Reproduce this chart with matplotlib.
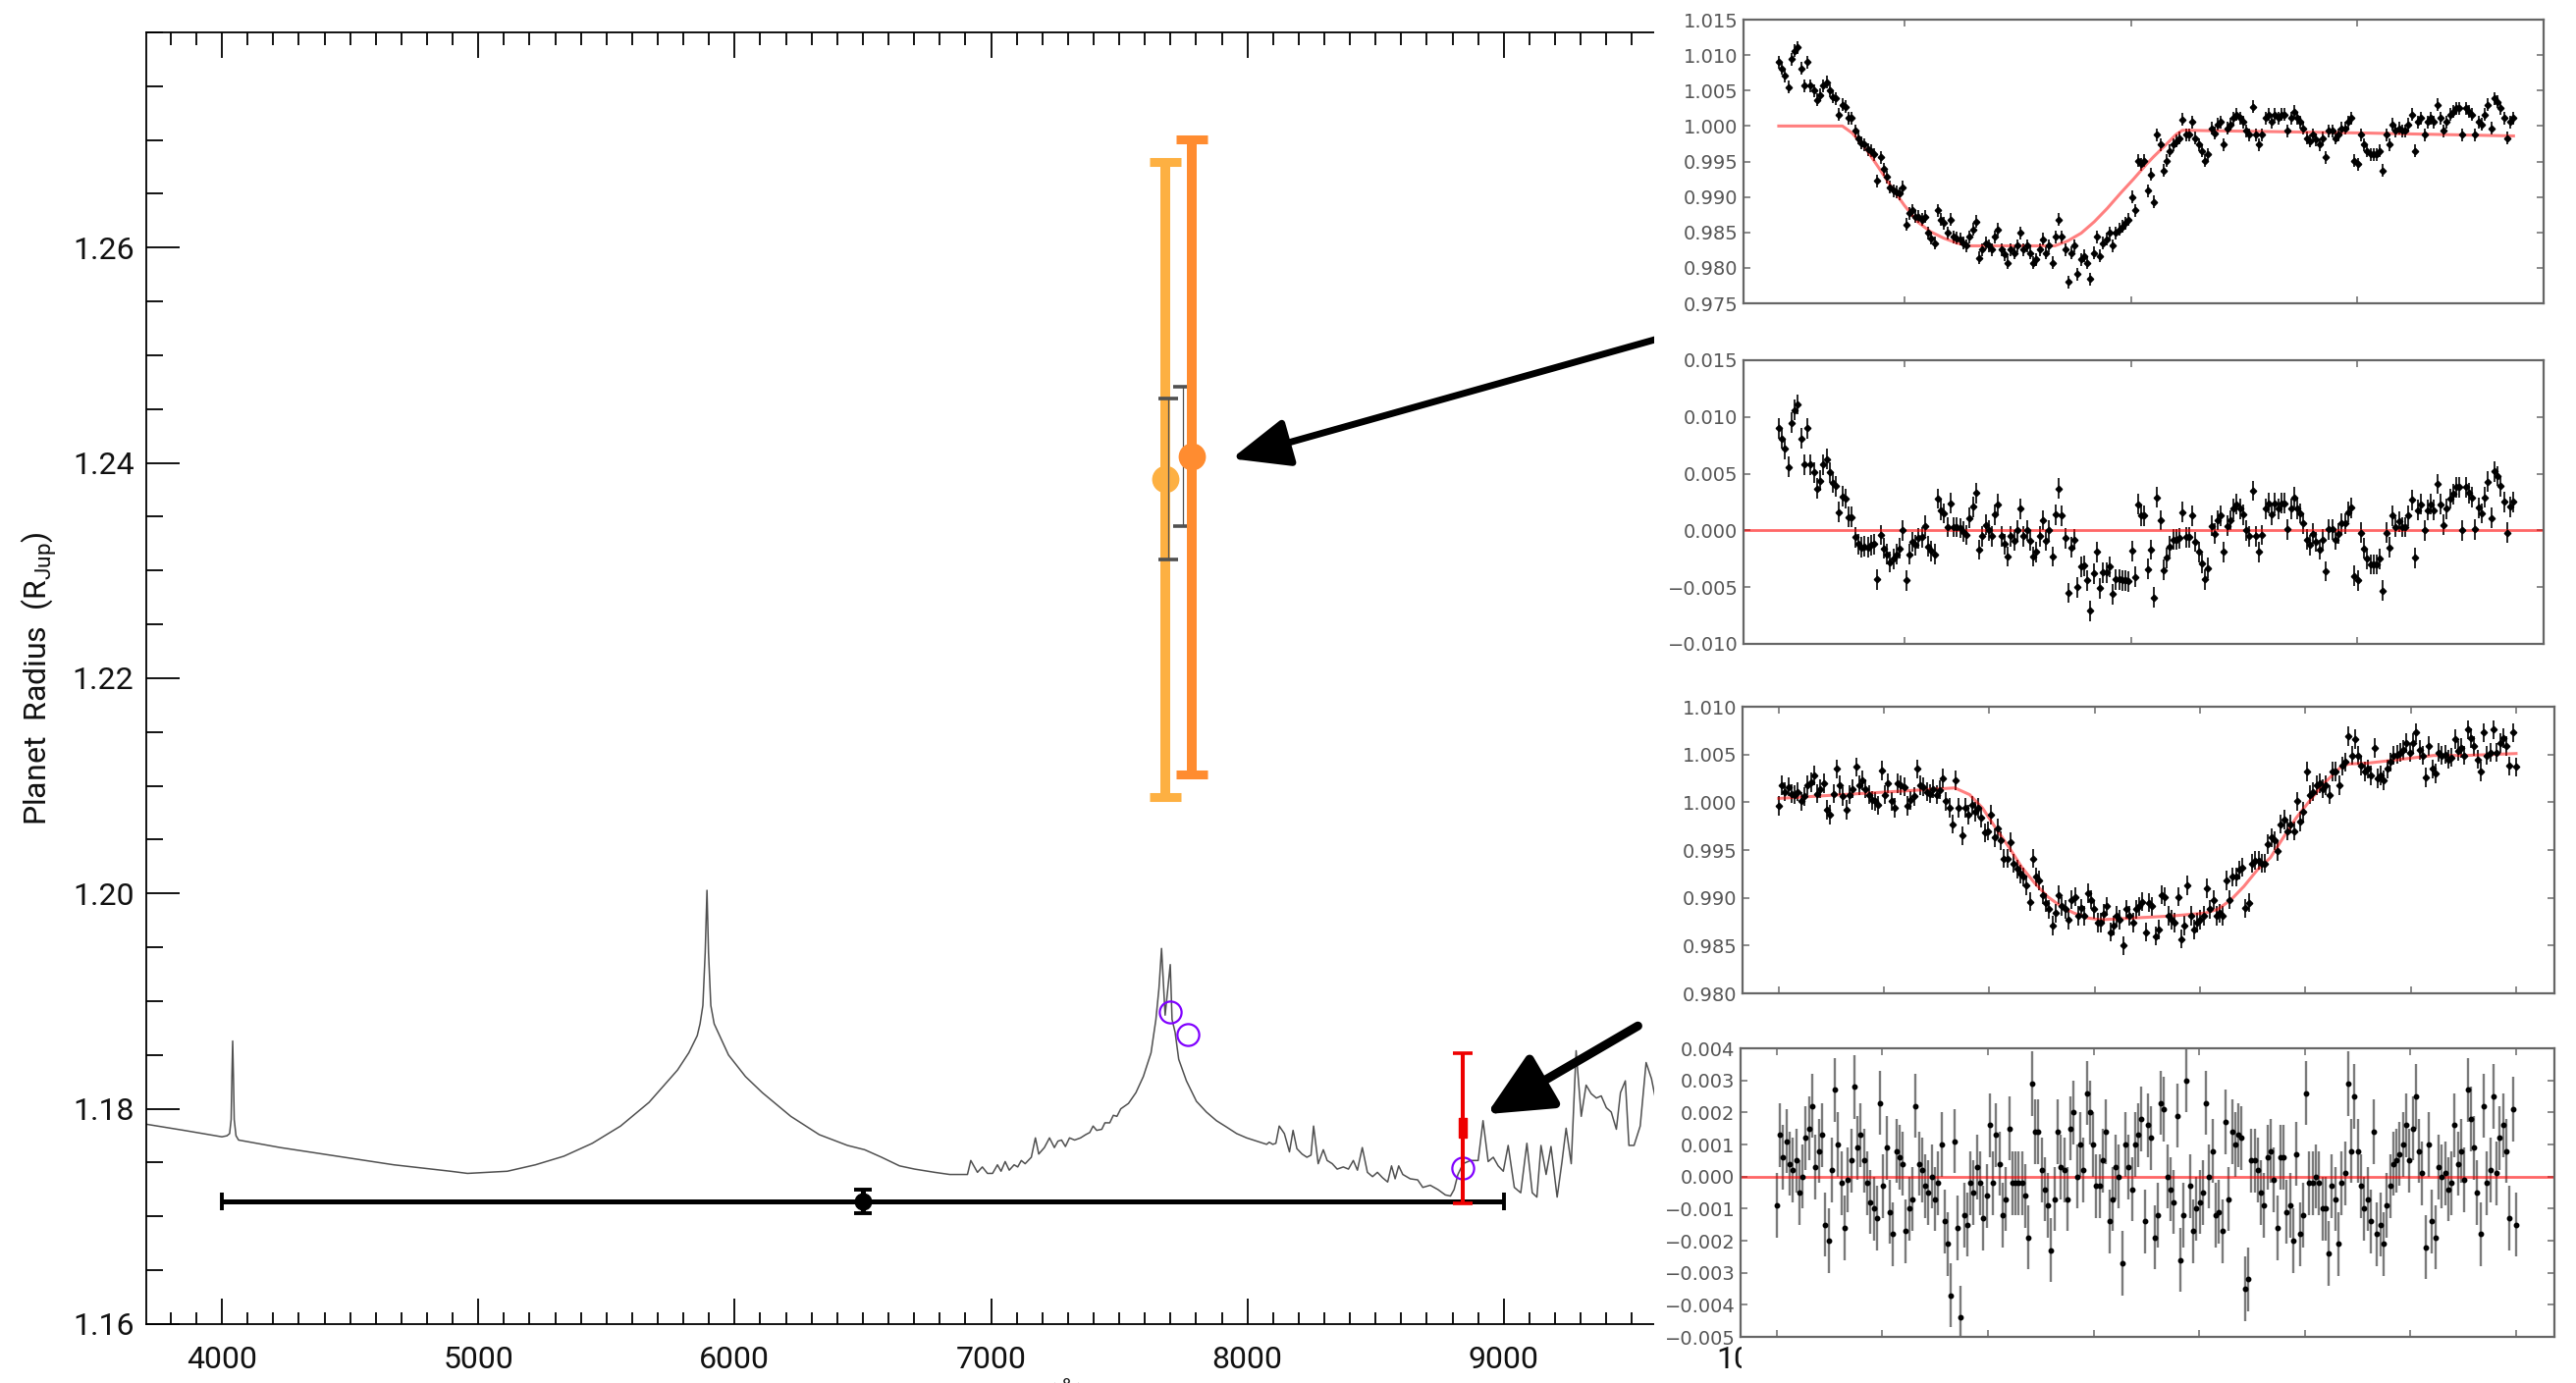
import numpy as np
import matplotlib
matplotlib.use('Agg')
import matplotlib.pyplot as plt
from matplotlib.patches import Rectangle
from matplotlib.ticker import MultipleLocator, FormatStrFormatter

plt.rcParams['font.family'] = ['Roboto', 'DejaVu Sans']
plt.rcParams['font.weight'] = 'normal'
plt.rcParams['mathtext.fontset'] = 'custom'
plt.rcParams['mathtext.rm'] = 'Roboto'

# model transmission spectrum (wavelength in A, radius in R_Jup)
spec_wave = [3697, 3852, 4000, 4020, 4030, 4036, 4039, 4042, 4045, 4048, 4055, 4065,
             4228, 4449, 4670, 4892, 4958, 5113, 5223, 5334, 5445, 5555, 5666, 5777,
             5821, 5854, 5865, 5876, 5885, 5892, 5898, 5907, 5920, 5976, 6042, 6108,
             6219, 6330, 6440, 6507, 6573, 6643, 6702, 6780, 6839, 6908,
             6921, 6947, 6966, 6986, 7006, 7025, 7039, 7055, 7071, 7090, 7104, 7118,
             7133, 7157, 7173, 7186, 7208, 7228, 7247, 7261, 7275, 7290, 7306, 7326,
             7349, 7369, 7385, 7398, 7412, 7432, 7444, 7463, 7477, 7491, 7506, 7536,
             7565, 7594, 7624, 7643, 7655, 7665, 7679, 7699, 7706, 7718, 7732, 7762,
             7801, 7840, 7879, 7919, 7958, 7997, 8036, 8075, 8085, 8099, 8111, 8124,
             8144, 8164, 8178, 8193, 8213, 8232, 8248, 8258, 8276, 8296, 8311, 8331,
             8350, 8374, 8394, 8413, 8429, 8448, 8468, 8488, 8507, 8527, 8547, 8562,
             8576, 8590, 8606, 8635, 8664, 8684, 8713, 8743, 8772, 8792, 8806, 8821,
             8841, 8870, 8900, 8919, 8939, 8959, 8978, 8998, 9017, 9041, 9066, 9090,
             9111, 9129, 9145, 9165, 9184, 9208, 9227, 9243, 9263, 9282, 9302, 9321,
             9341, 9361, 9380, 9400, 9419, 9439, 9455, 9474, 9488, 9508, 9532, 9555,
             9576, 9600]
spec_rad = [1.1786, 1.1780, 1.1774, 1.1775, 1.1777, 1.1790, 1.1830, 1.1863, 1.1830, 1.1790, 1.1775, 1.1771,
            1.1764, 1.1756, 1.1748, 1.1742, 1.1740, 1.1742, 1.1748, 1.1756, 1.1768, 1.1784, 1.1806, 1.1836,
            1.1852, 1.1868, 1.1879, 1.1896, 1.1945, 1.2003, 1.1945, 1.1896, 1.1879, 1.1850, 1.1830, 1.1815,
            1.1793, 1.1776, 1.1766, 1.1762, 1.1755, 1.1747, 1.1744, 1.1741, 1.1739, 1.1739,
            1.1752, 1.1741, 1.1746, 1.1740, 1.1740, 1.1748, 1.1742, 1.1751, 1.1743, 1.1748, 1.1746, 1.1752,
            1.1749, 1.1755, 1.1773, 1.1758, 1.1764, 1.1773, 1.1764, 1.1770, 1.1771, 1.1765, 1.1773, 1.1771,
            1.1773, 1.1776, 1.1778, 1.1784, 1.1780, 1.1781, 1.1787, 1.1787, 1.1794, 1.1793, 1.1800, 1.1805,
            1.1815, 1.1830, 1.1852, 1.1883, 1.1912, 1.1949, 1.1887, 1.1934, 1.1883, 1.1871, 1.1846, 1.1826,
            1.1807, 1.1797, 1.1789, 1.1783, 1.1777, 1.1773, 1.1770, 1.1767, 1.1769, 1.1767, 1.1768, 1.1784,
            1.1777, 1.1760, 1.1780, 1.1763, 1.1758, 1.1755, 1.1757, 1.1784, 1.1749, 1.1762, 1.1752, 1.1749,
            1.1744, 1.1746, 1.1744, 1.1752, 1.1743, 1.1764, 1.1741, 1.1737, 1.1741, 1.1736, 1.1732, 1.1747,
            1.1735, 1.1747, 1.1739, 1.1735, 1.1734, 1.1727, 1.1729, 1.1725, 1.1720, 1.1719, 1.1725, 1.1739,
            1.1749, 1.1752, 1.1752, 1.1789, 1.1751, 1.1755, 1.1747, 1.1742, 1.1766, 1.1727, 1.1722, 1.1768,
            1.1722, 1.1718, 1.1766, 1.1739, 1.1765, 1.1718, 1.1751, 1.1782, 1.1749, 1.1854, 1.1793, 1.1822,
            1.1814, 1.1810, 1.1812, 1.1801, 1.1797, 1.1781, 1.1815, 1.1826, 1.1766, 1.1766, 1.1784, 1.1843,
            1.1828, 1.1799]

# binned model points
circ_wave = [7699, 7767, 8841]
circ_rad = [1.1890, 1.1869, 1.1745]

# broadband radius
bb_wave, bb_xerr, bb_rad, bb_yerr = 6500, 2500, 1.1714, 0.0011
# z-band point
z_wave, z_rad, z_err = 8840, 1.1782, 0.0070
# potassium points: total and statistical errors
k_wave = [7681, 7784]
k_rad = [1.2385, 1.2406]
k_err = [0.0295, 0.0295]
k_err_stat = [0.0075, 0.0065]
k_colors = ['#FDB042', '#FF8C30']

# light curve 1 (normalised flux) and residuals
p1_flux = [1.0090, 1.0081, 1.0071, 1.0055, 1.0094, 1.0106, 1.0111, 1.0081, 1.0057, 1.0090,
           1.0057, 1.0050, 1.0037, 1.0044, 1.0057, 1.0062, 1.0050, 1.0041, 1.0039, 1.0016,
           1.0030, 1.0027, 1.0011, 1.0011, 0.9993, 0.9983, 0.9976, 0.9974, 0.9967, 0.9965,
           0.9960, 0.9923, 0.9956, 0.9939, 0.9928, 0.9914, 0.9909, 0.9907, 0.9905, 0.9914,
           0.9861, 0.9877, 0.9881, 0.9872, 0.9872, 0.9868, 0.9872, 0.9849, 0.9842, 0.9835,
           0.9881, 0.9868, 0.9863, 0.9849, 0.9868, 0.9844, 0.9842, 0.9840, 0.9835, 0.9831,
           0.9844, 0.9854, 0.9865, 0.9814, 0.9826, 0.9835, 0.9831, 0.9826, 0.9844, 0.9854,
           0.9826, 0.9819, 0.9807, 0.9826, 0.9821, 0.9831, 0.9849, 0.9826, 0.9831, 0.9821,
           0.9807, 0.9812, 0.9826, 0.9840, 0.9821, 0.9831, 0.9807, 0.9844, 0.9868, 0.9844,
           0.9826, 0.9780, 0.9821, 0.9831, 0.9791, 0.9812, 0.9817, 0.9807, 0.9784, 0.9821,
           0.9844, 0.9817, 0.9835, 0.9840, 0.9849, 0.9831, 0.9849, 0.9854, 0.9858, 0.9863,
           0.9868, 0.9900, 0.9881, 0.9951, 0.9946, 0.9951, 0.9909, 0.9932, 0.9893, 0.9988,
           0.9974,
           0.9937, 0.9951, 0.9965, 0.9974, 0.9979, 0.9983, 1.0009, 0.9988, 0.9988, 1.0006,
           0.9983, 0.9974, 0.9965, 0.9951, 0.9960, 0.9997, 0.9990, 1.0002, 1.0006, 0.9974,
           0.9997, 1.0002, 1.0011, 1.0016, 1.0011, 1.0006, 0.9993, 0.9988, 1.0027, 0.9988,
           0.9974, 0.9988, 1.0011, 1.0016, 1.0006, 1.0016, 1.0011, 1.0016, 1.0016, 0.9993,
           1.0011, 1.0020, 1.0011, 1.0006, 0.9997, 0.9983, 0.9979, 0.9988, 0.9981, 0.9974,
           0.9983, 0.9956, 0.9993, 0.9993, 0.9983, 0.9988, 0.9997, 0.9997, 1.0006, 1.0011,
           0.9951, 0.9946, 0.9988, 0.9974, 0.9965, 0.9960, 0.9960, 0.9960, 0.9965, 0.9937,
           0.9988, 0.9974, 1.0002, 0.9993, 0.9997, 0.9993, 0.9993, 1.0002, 1.0016, 0.9965,
           1.0006, 1.0011, 0.9988, 1.0006, 1.0011, 1.0006, 1.0030, 1.0011, 0.9993, 1.0006,
           1.0016, 1.0020, 1.0025, 1.0025, 0.9988, 1.0025, 1.0020, 1.0016, 0.9988, 1.0006,
           1.0002, 1.0016, 1.0030, 0.9997, 1.0039, 1.0034, 1.0025, 1.0011, 0.9983, 1.0006,
           1.0011]
p1_model_t = [0, 20, 23.1, 27.2, 31.3, 35.4, 39.5, 43.6, 47.7, 51.8, 56.0, 60.1, 68.3, 78.6,
              86.8, 90.9, 95.1, 99.2, 103.3, 107.4, 111.5, 115.6, 117.7, 121.8, 124.9, 126.9,
              185.6, 231]
p1_model_f = [1.0000, 1.0000, 0.9990, 0.9969, 0.9942, 0.9914, 0.9888, 0.9865, 0.9851, 0.9842,
              0.9835, 0.9831, 0.9831, 0.9831, 0.9831, 0.9838, 0.9849, 0.9865, 0.9884, 0.9905,
              0.9925, 0.9946, 0.9956, 0.9974, 0.9988, 0.9994, 0.9990, 0.9986]
p2_res = [0.0090, 0.0081, 0.0072, 0.0056, 0.0095, 0.0106, 0.0111, 0.0081, 0.0058, 0.0090,
          0.0058, 0.0051, 0.0037, 0.0044, 0.0058, 0.0063, 0.0051, 0.0042, 0.0039, 0.0016,
          0.0030, 0.0028, 0.0012, 0.0012, -0.0006, -0.0012, -0.0015, -0.0014, -0.0015, -0.0013,
          -0.0012, -0.0043, -0.0004, -0.0016, -0.0021, -0.0028, -0.0025, -0.0021, -0.0016, 0.0000,
          -0.0044, -0.0021, -0.0010, -0.0013, -0.0007, -0.0006, 0.0004, -0.0014, -0.0018, -0.0021,
          0.0028, 0.0018, 0.0015, 0.0003, 0.0024, 0.0003, 0.0003, 0.0002, -0.0001, -0.0004,
          0.0011, 0.0021, 0.0033, -0.0017, -0.0005, 0.0005, 0.0000, -0.0005, 0.0014, 0.0023,
          -0.0005, -0.0012, -0.0023, -0.0005, -0.0009, 0.0000, 0.0019, -0.0005, 0.0000, -0.0009,
          -0.0023, -0.0019, -0.0005, 0.0009, -0.0009, 0.0000, -0.0023, 0.0014, 0.0037, 0.0013,
          -0.0007, -0.0055, -0.0015, -0.0008, -0.0050, -0.0032, -0.0031, -0.0044, -0.0071, -0.0038,
          -0.0019, -0.0051, -0.0037, -0.0037, -0.0032, -0.0056, -0.0043, -0.0043, -0.0044, -0.0044,
          -0.0045, -0.0018, -0.0041, 0.0023, 0.0013, 0.0013, -0.0034, -0.0017, -0.0059, 0.0029,
          0.0009,
          -0.0035, -0.0024, -0.0014, -0.0008, -0.0008, -0.0007, 0.0016, -0.0006, -0.0006, 0.0013,
          -0.0010, -0.0019, -0.0029, -0.0043, -0.0033, 0.0004, -0.0003, 0.0009, 0.0013, -0.0019,
          0.0004, 0.0009, 0.0019, 0.0023, 0.0019, 0.0014, 0.0000, -0.0005, 0.0035, -0.0005,
          -0.0019, -0.0004, 0.0019, 0.0024, 0.0014, 0.0024, 0.0019, 0.0024, 0.0024, 0.0001,
          0.0019, 0.0029, 0.0019, 0.0015, 0.0006, -0.0008, -0.0013, -0.0003, -0.0010, -0.0017,
          -0.0008, -0.0036, 0.0001, 0.0001, -0.0008, -0.0003, 0.0006, 0.0006, 0.0016, 0.0020,
          -0.0040, -0.0044, -0.0002, -0.0016, -0.0025, -0.0030, -0.0030, -0.0030, -0.0025, -0.0053,
          -0.0002, -0.0015, 0.0013, 0.0003, 0.0008, 0.0003, 0.0003, 0.0013, 0.0027, -0.0024,
          0.0018, 0.0023, 0.0000, 0.0018, 0.0023, 0.0018, 0.0041, 0.0023, 0.0005, 0.0019,
          0.0028, 0.0032, 0.0038, 0.0038, 0.0000, 0.0038, 0.0033, 0.0029, 0.0001, 0.0020,
          0.0015, 0.0029, 0.0043, 0.0011, 0.0052, 0.0048, 0.0039, 0.0025, -0.0002, 0.0021,
          0.0025]

# light curve 2 (normalised flux) and residuals
p3_flux = [0.9996, 1.0018, 1.0011, 1.0016, 1.0009, 1.0008, 1.0011, 1.0001, 1.0006, 1.0018,
           1.0021, 1.0028, 1.0009, 1.0014, 1.0020, 0.9992, 0.9987, 1.0009, 1.0035, 1.0018,
           1.0006, 0.9992, 1.0008, 1.0014, 1.0037, 1.0018, 1.0023, 1.0014, 1.0008, 1.0002,
           1.0001, 0.9997, 1.0033, 1.0008, 1.0020, 1.0001, 0.9994, 1.0020, 1.0018, 1.0016,
           0.9996, 1.0002, 1.0006, 1.0035, 1.0018, 1.0016, 1.0011, 1.0009, 1.0014, 1.0008,
           1.0013, 1.0025, 1.0001, 0.9994, 0.9977, 1.0023, 0.9994, 0.9965, 0.9994, 0.9987,
           0.9997, 0.9990, 0.9994, 0.9984, 0.9968, 0.9970, 0.9987, 0.9963, 0.9973, 0.9960,
           0.9941, 0.9941, 0.9958, 0.9936, 0.9930, 0.9925, 0.9922, 0.9913, 0.9896, 0.9941,
           0.9922, 0.9918, 0.9903, 0.9895, 0.9888, 0.9871, 0.9884, 0.9903, 0.9891, 0.9888,
           0.9877, 0.9898, 0.9901, 0.9881, 0.9889, 0.9881, 0.9905, 0.9898, 0.9888, 0.9874,
           0.9874, 0.9883, 0.9891, 0.9864, 0.9871, 0.9881, 0.9877, 0.9850, 0.9888, 0.9881,
           0.9874, 0.9888, 0.9891, 0.9896, 0.9864, 0.9895,
           0.9891, 0.9860, 0.9867, 0.9903, 0.9901, 0.9881, 0.9877, 0.9874, 0.9901, 0.9857,
           0.9871, 0.9913, 0.9881, 0.9867, 0.9874, 0.9877, 0.9881, 0.9910, 0.9888, 0.9898,
           0.9881, 0.9884, 0.9881, 0.9918, 0.9898, 0.9922, 0.9922, 0.9929, 0.9932, 0.9889,
           0.9895, 0.9936, 0.9939, 0.9939, 0.9936, 0.9936, 0.9956, 0.9963, 0.9960, 0.9949,
           0.9977, 0.9982, 0.9970, 0.9977, 0.9970, 1.0001, 0.9980, 0.9990, 1.0032, 1.0008,
           1.0011, 1.0018, 1.0020, 1.0014, 1.0018, 1.0008, 1.0032, 1.0032, 1.0018, 1.0038,
           1.0042, 1.0069, 1.0049, 1.0066, 1.0049, 1.0038, 1.0032, 1.0035, 1.0028, 1.0057,
           1.0025, 1.0028, 1.0023, 1.0035, 1.0042, 1.0049, 1.0050, 1.0052, 1.0055, 1.0062,
           1.0052, 1.0062, 1.0073, 1.0055, 1.0049, 1.0026, 1.0059, 1.0035, 1.0030, 1.0052,
           1.0049, 1.0050, 1.0045, 1.0047, 1.0066, 1.0054, 1.0057, 1.0049, 1.0076, 1.0067,
           1.0059, 1.0045, 1.0032, 1.0073, 1.0049, 1.0052, 1.0076, 1.0052, 1.0062, 1.0067,
           1.0059, 1.0038, 1.0073, 1.0037]
p3_model_t = [0, 54.7, 59.3, 63.3, 67.4, 71.5, 75.5, 79.6, 83.6, 87.7, 91.7, 95.8, 99.9,
              122.2, 132.4, 136.4, 140.5, 144.5, 148.6, 152.7, 156.7, 160.8, 164.8, 168.9,
              173.0, 175.0, 177.0, 183.1, 193.3, 203.4, 213.6, 229]
p3_model_f = [1.0004, 1.0015, 1.0008, 0.9994, 0.9973, 0.9953, 0.9932, 0.9915, 0.9901, 0.9891,
              0.9884, 0.9879, 0.9877, 0.9881, 0.9884, 0.9888, 0.9898, 0.9912, 0.9929, 0.9942,
              0.9963, 0.9984, 1.0001, 1.0018, 1.0032, 1.0038, 1.0040, 1.0041, 1.0045, 1.0049,
              1.0049, 1.0051]
p4_res = [-0.0009, 0.0013, 0.0006, 0.0011, 0.0004, 0.0002, 0.0005, -0.0005, 0.0000, 0.0012,
          0.0015, 0.0022, 0.0003, 0.0008, 0.0013, -0.0015, -0.0020, 0.0002, 0.0027, 0.0010,
          -0.0002, -0.0016, -0.0001, 0.0005, 0.0028, 0.0009, 0.0013, 0.0005, -0.0002, -0.0008,
          -0.0010, -0.0013, 0.0023, -0.0003, 0.0009, -0.0011, -0.0018, 0.0008, 0.0006, 0.0004,
          -0.0017, -0.0010, -0.0007, 0.0022, 0.0004, 0.0002, -0.0003, -0.0005, 0.0000, -0.0007,
          -0.0002, 0.0010, -0.0014, -0.0021, -0.0037, 0.0011, -0.0016, -0.0044, -0.0012, -0.0015,
          -0.0002, -0.0005, 0.0003, -0.0002, -0.0013, -0.0006, 0.0016, -0.0002, 0.0013, 0.0004,
          -0.0012, -0.0007, 0.0015, -0.0002, -0.0002, -0.0002, -0.0002, -0.0006, -0.0019, 0.0029,
          0.0014, 0.0014, 0.0002, -0.0004, -0.0009, -0.0023, -0.0007, 0.0014, 0.0003, 0.0002,
          -0.0007, 0.0015, 0.0020, 0.0000, 0.0010, 0.0002, 0.0026, 0.0020, 0.0010, -0.0003,
          -0.0003, 0.0005, 0.0014, -0.0014, -0.0007, 0.0003, 0.0000, -0.0027, 0.0010, 0.0003,
          -0.0004, 0.0010, 0.0013, 0.0018, -0.0014, 0.0016,
          0.0012, -0.0019, -0.0012, 0.0023, 0.0021, 0.0000, -0.0004, -0.0008, 0.0019, -0.0026,
          -0.0012, 0.0030, -0.0003, -0.0017, -0.0010, -0.0008, -0.0005, 0.0023, 0.0000, 0.0008,
          -0.0012, -0.0011, -0.0017, 0.0017, -0.0007, 0.0014, 0.0010, 0.0013, 0.0012, -0.0035,
          -0.0032, 0.0005, 0.0005, 0.0002, -0.0005, -0.0009, 0.0006, 0.0008, -0.0001, -0.0016,
          0.0006, 0.0006, -0.0011, -0.0009, -0.0020, 0.0007, -0.0018, -0.0012, 0.0026, -0.0002,
          -0.0002, 0.0000, -0.0002, -0.0010, -0.0010, -0.0024, -0.0003, -0.0007, -0.0021, -0.0002,
          0.0001, 0.0029, 0.0008, 0.0025, 0.0008, -0.0003, -0.0010, -0.0007, -0.0014, 0.0014,
          -0.0018, -0.0015, -0.0021, -0.0009, -0.0003, 0.0004, 0.0005, 0.0007, 0.0010, 0.0016,
          0.0005, 0.0015, 0.0025, 0.0008, 0.0001, -0.0022, 0.0010, -0.0014, -0.0019, 0.0003,
          0.0000, 0.0001, -0.0004, -0.0002, 0.0016, 0.0004, 0.0008, -0.0001, 0.0027, 0.0018,
          0.0009, -0.0005, -0.0018, 0.0022, -0.0002, 0.0002, 0.0025, 0.0001, 0.0012, 0.0016,
          0.0008, -0.0013, 0.0021, -0.0015]

W, H = 2624, 1409
fig = plt.figure(figsize=(W / 100, H / 100), dpi=100)

# ---- main spectrum panel ----
ax = fig.add_axes([149 / W, 60 / H, 1691 / W, 1316 / H])
ax.plot(spec_wave, spec_rad, color='#505050', lw=1.1, zorder=2)
ax.plot(circ_wave, circ_rad, 'o', mfc='none', mec='#8000FF', mew=1.6, ms=16, zorder=3)
ax.errorbar(bb_wave, bb_rad, xerr=bb_xerr, yerr=bb_yerr, fmt='o', color='k', ms=12,
            elinewidth=3.6, capsize=6.8, capthick=2.8, zorder=4)
ax.errorbar(z_wave, z_rad, yerr=z_err, fmt='none', ecolor='#EE0000', elinewidth=2.9,
            capsize=7.5, capthick=2.6, zorder=4)
ax.plot(z_wave, z_rad, ls='none', color='#EE0000',
        marker=[(-0.45, -1), (0.45, -1), (0.45, 1), (-0.45, 1), (-0.45, -1)], ms=14, zorder=5)

# thick bars: total error; thin bars: statistical error
offsets = [11, -34]
inner_caps = ['#F0A030', '#F08020']
for i in range(2):
    ax.errorbar(k_wave[i], k_rad[i], yerr=k_err[i], fmt='o', color=k_colors[i], ms=19,
                elinewidth=7.2, capsize=11.5, capthick=6.5, zorder=5 + 2 * i)
    _, caps, _ = ax.errorbar(k_wave[i] + offsets[i], k_rad[i], yerr=k_err_stat[i], fmt='none',
                             ecolor='#505050', elinewidth=0.9, capsize=7.2, capthick=2.6,
                             zorder=6 if i == 0 else 6.5)
    for c in caps:
        c.set_color(inner_caps[i])

ax.annotate('', xy=(7938, 1.2404), xytext=(9700, 1.2522),
            arrowprops=dict(arrowstyle='-|>,head_length=1.8,head_width=0.75', color='k',
                            lw=5, shrinkA=0, shrinkB=0, mutation_scale=20), zorder=8)
ax.annotate('', xy=(8933, 1.1795), xytext=(9523, 1.1877),
            arrowprops=dict(arrowstyle='-|>,head_length=2.0,head_width=0.95', color='k',
                            lw=6.5, shrinkA=0, shrinkB=0, mutation_scale=20), zorder=8)

ax.set_xlim(3705, 10180)
ax.set_ylim(1.16, 1.28)
ax.xaxis.set_major_locator(MultipleLocator(1000))
ax.xaxis.set_minor_locator(MultipleLocator(100))
ax.set_yticks([1.16, 1.18, 1.20, 1.22, 1.24, 1.26])
ax.yaxis.set_minor_locator(MultipleLocator(0.005))
ax.yaxis.set_major_formatter(FormatStrFormatter('%.2f'))
ax.tick_params(which='both', direction='in', top=True, right=True, width=1.3, labelsize=23,
               labelcolor='#111111')
ax.tick_params(axis='x', which='major', length=19, pad=16)
ax.tick_params(axis='x', which='minor', length=9)
ax.tick_params(axis='y', which='major', length=24.5, pad=9)
ax.tick_params(axis='y', which='minor', length=12)
for s in ax.spines.values():
    s.set_linewidth(1.3)
ax.set_ylabel('Planet  Radius  (R$_{\\rm Jup}$)', fontsize=23, color='#111111')
ax.yaxis.set_label_coords(-0.052, 0.5)
ax.set_xlabel('Wavelength  (Å)', fontsize=23, color='#111111')
ax.xaxis.set_label_coords(0.5, -0.042)

# white background of the pasted light-curve figure
fig.patches.append(Rectangle((1685 / W, 37 / H), 1 - 1685 / W, 1 - 37 / H,
                             transform=fig.transFigure, facecolor='white', edgecolor='none', zorder=1))
fig.patches.append(Rectangle((1774 / W, 0), 1 - 1774 / W, 38 / H,
                             transform=fig.transFigure, facecolor='white', edgecolor='none', zorder=1))


def style_panel(p, yticks, n, tick_frac, lim_frac):
    p.set_zorder(2)
    p.set_ylim(yticks[0], yticks[-1])
    p.set_yticks(yticks, labels=[f'{v:.3f}'.replace('-', '\u2212') for v in yticks],
                 fontsize=14, color='#555555', fontfamily='DejaVu Sans', fontweight='normal')
    p.set_xticks([f * (n - 1) for f in tick_frac], labels=[])
    p.set_xlim(lim_frac[0] * (n - 1), lim_frac[1] * (n - 1))
    p.tick_params(direction='in', top=True, right=True, length=5, width=1.2,
                  color='#777777', pad=4)
    for s in p.spines.values():
        s.set_color('#666666')
        s.set_linewidth(1.6)


top_ticks = [0.171, 0.480, 0.787]
top_lim = (-0.048, 1.041)
bot_ticks = [k / 7 for k in range(8)]
bot_lim = (-0.049, 1.052)

p1 = fig.add_axes([1776 / W, 1 - 309 / H, 815 / W, 289 / H])
n1 = len(p1_flux)
p1.errorbar(np.arange(n1), p1_flux, yerr=0.0009, fmt='D', ms=3.3, color='k',
            elinewidth=1.2, capsize=0)
p1.plot(p1_model_t, p1_model_f, color='red', alpha=0.5, lw=2.2)
style_panel(p1, np.round(np.arange(0.975, 1.0151, 0.005), 3), n1, top_ticks, top_lim)

p2 = fig.add_axes([1776 / W, 1 - 656 / H, 815 / W, 289 / H])
p2.errorbar(np.arange(len(p2_res)), p2_res, yerr=0.0009, fmt='D', ms=3.3, color='k',
            elinewidth=1.2, capsize=0)
p2.axhline(0, color='red', alpha=0.6, lw=2)
style_panel(p2, np.round(np.arange(-0.010, 0.0151, 0.005), 3), len(p2_res), top_ticks, top_lim)

p3 = fig.add_axes([1775 / W, 1 - 1012 / H, 827 / W, 292 / H])
n3 = len(p3_flux)
p3.errorbar(np.arange(n3), p3_flux, yerr=0.001, fmt='D', ms=3.3, color='k',
            elinewidth=1.2, capsize=0)
p3.plot(p3_model_t, p3_model_f, color='red', alpha=0.5, lw=2.2)
style_panel(p3, np.round(np.arange(0.980, 1.0101, 0.005), 3), n3, bot_ticks, bot_lim)

p4 = fig.add_axes([1773 / W, 1 - 1362 / H, 829 / W, 294 / H])
p4.errorbar(np.arange(len(p4_res)), p4_res, yerr=0.001, fmt='o', ms=3.2, color='k',
            ecolor='#7a7a7a', elinewidth=1.7, capsize=0)
p4.axhline(0, color='red', alpha=0.6, lw=2)
style_panel(p4, np.round(np.arange(-0.005, 0.0041, 0.001), 3), len(p4_res), bot_ticks, bot_lim)

fig.savefig('out.png', dpi=100)
